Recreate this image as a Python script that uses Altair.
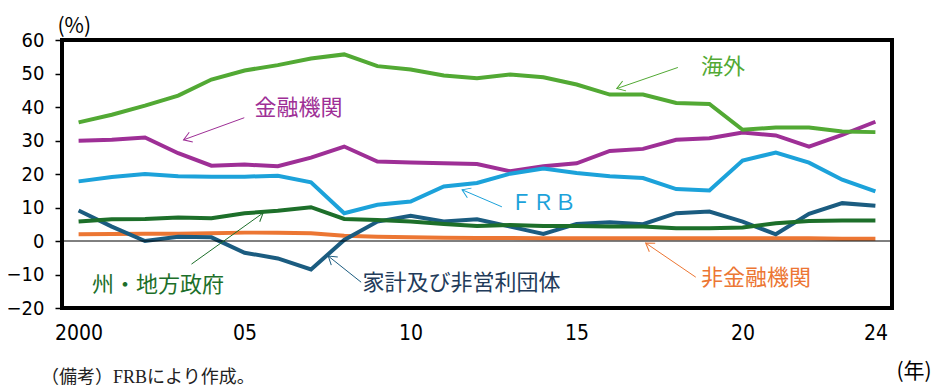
import math
import altair as alt
import pandas as pd

years = list(range(2000, 2025))

kaigai = [35.4, 37.7, 40.4, 43.4, 48.2, 50.9, 52.5, 54.5, 55.7, 52.2, 51.2, 49.4, 48.6,
          49.7, 48.9, 46.7, 43.7, 43.7, 41.2, 40.9, 33.2, 33.9, 33.9, 32.7, 32.5]
kinyu = [29.9, 30.2, 30.9, 26.2, 22.5, 22.8, 22.3, 24.9, 28.2, 23.7, 23.4, 23.2, 23.0,
         20.8, 22.3, 23.2, 26.9, 27.5, 30.2, 30.7, 32.4, 31.5, 28.2, 31.7, 35.6]
frb = [17.8, 19.1, 20.0, 19.3, 19.2, 19.2, 19.5, 17.5, 8.3, 10.8, 11.8, 16.3, 17.3,
       20.1, 21.6, 20.3, 19.3, 18.8, 15.5, 15.1, 24.0, 26.4, 23.4, 18.3, 14.8]
kakei = [9.1, 4.3, 0.0, 1.3, 1.1, -3.5, -5.2, -8.5, 0.3, 5.8, 7.5, 5.8, 6.5,
         4.3, 2.1, 5.1, 5.6, 5.0, 8.3, 8.8, 5.8, 2.0, 8.1, 11.3, 10.5]
shu = [5.8, 6.5, 6.6, 7.0, 6.8, 8.3, 9.0, 10.1, 6.6, 6.3, 5.8, 5.1, 4.5,
       4.8, 4.5, 4.5, 4.3, 4.3, 3.8, 3.8, 4.0, 5.3, 6.0, 6.1, 6.1]
hikinyu = [2.0, 2.1, 2.2, 2.2, 2.3, 2.5, 2.5, 2.3, 1.6, 1.3, 1.1, 1.0, 0.9,
           0.9, 0.8, 0.8, 0.8, 0.8, 0.8, 0.8, 0.8, 0.8, 0.8, 0.7, 0.7]

series_names = ["非金融機関", "家計及び非営利団体", "州・地方政府", "金融機関", "ＦＲＢ", "海外"]
series_values = [hikinyu, kakei, shu, kinyu, frb, kaigai]
line_colors = ["#EC7633", "#1B5C80", "#1D6F2A", "#9E2F96", "#1CA2DA", "#52A934"]

y_ticks = [-20, -10, 0, 10, 20, 30, 40, 50, 60]
x_ticks = [2000, 2005, 2010, 2015, 2020, 2024]

# annotations (labels + arrows), in data units
ann_labels = ["海外", "金融機関", "ＦＲＢ", "州・地方政府", "家計及び非営利団体", "非金融機関"]
ann_colors = ["#52A934", "#9E2F96", "#1CA2DA", "#1D6F2A", "#223B5A", "#EC7633"]
ann_x = [2018.75, 2005.3, 2013.0, 2000.4, 2008.55, 2018.75]
ann_y = [52.0, 39.6, 11.2, -13.2, -12.4, -10.9]
arr_x0 = [2018.05, 2004.99, 2012.75, 2003.40, 2008.51, 2018.59]
arr_y0 = [51.8, 36.8, 10.2, -6.9, -12.3, -10.8]
arr_x1 = [2016.21, 2003.16, 2011.55, 2005.56, 2007.52, 2017.08]
arr_y1 = [45.5, 30.2, 15.3, 8.4, -4.5, -0.6]
arr_colors = ["#52A934", "#9E2F96", "#1CA2DA", "#1D6F2A", "#1B5C80", "#EC7633"]

W, H = 830, 268
X_DOM = [1999.5, 2024.5]
Y_DOM = [-20, 60]
px_x = W / (X_DOM[1] - X_DOM[0])
px_y = H / (Y_DOM[1] - Y_DOM[0])

rows = []
for name, vals in zip(series_names, series_values):
    for yr, v in zip(years, vals):
        rows.append({"year": yr, "value": v, "series": name})
df = pd.DataFrame(rows)

angles = []
for a, b, c, d in zip(arr_x0, arr_y0, arr_x1, arr_y1):
    dx = (c - a) * px_x
    dy = -(d - b) * px_y
    angles.append(math.degrees(math.atan2(dx, -dy)) % 360)

ann_df = pd.DataFrame({"label": ann_labels, "x": ann_x, "y": ann_y, "color": ann_colors})
arr_df = pd.DataFrame({"x0": arr_x0, "y0": arr_y0, "x1": arr_x1, "y1": arr_y1,
                       "color": arr_colors, "angle": angles})

NUM_FONT = "DejaVu Sans Condensed, Liberation Sans Narrow, sans-serif"
JP_FONT = "Noto Sans CJK JP"

xscale = alt.Scale(domain=X_DOM, nice=False, zero=False)
yscale = alt.Scale(domain=Y_DOM, nice=False)

x_axis = alt.Axis(values=x_ticks,
                  labelExpr="datum.value == 2000 ? '2000' : slice(toString(datum.value), 2)",
                  ticks=False, domain=False, grid=False, labelOverlap=False,
                  labelFont=NUM_FONT, labelFontSize=21, labelColor="black",
                  labelPadding=14,
                  title="(年)", titleFont=JP_FONT, titleFontSize=21,
                  titleFontWeight="normal", titleColor="black",
                  titleAlign="left", titleBaseline="middle",
                  titleX=834, titleY=63)
y_axis = alt.Axis(values=y_ticks, grid=False, domain=False,
                  ticks=True, tickSize=7, tickColor="black", tickWidth=1.5,
                  labelOverlap=False, labelFlush=False,
                  labelFont=NUM_FONT, labelFontSize=20, labelColor="black",
                  labelPadding=11,
                  title="(%)", titleFont=JP_FONT, titleFontSize=21,
                  titleFontWeight="normal", titleColor="black", titleAngle=0,
                  titleAlign="left", titleBaseline="middle",
                  titleX=-5, titleY=-14)

lines = alt.Chart(df).mark_line(strokeWidth=4).encode(
    x=alt.X("year:Q", scale=xscale, axis=x_axis),
    y=alt.Y("value:Q", scale=yscale, axis=y_axis),
    color=alt.Color("series:N", scale=alt.Scale(domain=series_names, range=line_colors),
                    legend=None),
    order=alt.Order("year:Q"),
    detail="series:N",
)

zero = alt.Chart(pd.DataFrame({"z": [0]})).mark_rule(color="black", strokeWidth=1).encode(
    y=alt.Y("z:Q", scale=yscale, axis=y_axis)
)

arrows = alt.Chart(arr_df).mark_rule(strokeWidth=1).encode(
    x=alt.X("x0:Q", scale=xscale, axis=x_axis), y=alt.Y("y0:Q", scale=yscale, axis=y_axis),
    x2="x1:Q", y2="y1:Q",
    color=alt.Color("color:N", scale=None),
)

heads = alt.Chart(arr_df).mark_point(
    shape="M -0.65 1 L 0 0 L 0.65 1", filled=False, size=256, strokeWidth=1, opacity=1
).encode(
    x=alt.X("x1:Q", scale=xscale, axis=x_axis), y=alt.Y("y1:Q", scale=yscale, axis=y_axis),
    color=alt.Color("color:N", scale=None),
    angle=alt.Angle("angle:Q", scale=None),
)

texts = alt.Chart(ann_df).mark_text(
    align="left", baseline="middle", font=JP_FONT, fontSize=22
).encode(
    x=alt.X("x:Q", scale=xscale, axis=x_axis), y=alt.Y("y:Q", scale=yscale, axis=y_axis),
    text="label:N",
    color=alt.Color("color:N", scale=None),
)

note = alt.Chart(pd.DataFrame({"t": ["（備考）FRBにより作成。"]})).mark_text(
    align="left", baseline="middle", font="Liberation Serif, Noto Sans CJK JP",
    fontSize=18, color="#222222"
).encode(x=alt.value(-21), y=alt.value(338), text="t:N")

chart = alt.layer(lines, zero, arrows, heads, texts, note).properties(
    width=W, height=H,
    background="white",
    autosize=alt.AutoSizeParams(type="none"),
    padding={"left": 54, "top": 32, "right": 41, "bottom": 81},
).configure_view(stroke="black", strokeWidth=4)

chart.save("out.html", embed_options={"renderer": "svg", "actions": False})
